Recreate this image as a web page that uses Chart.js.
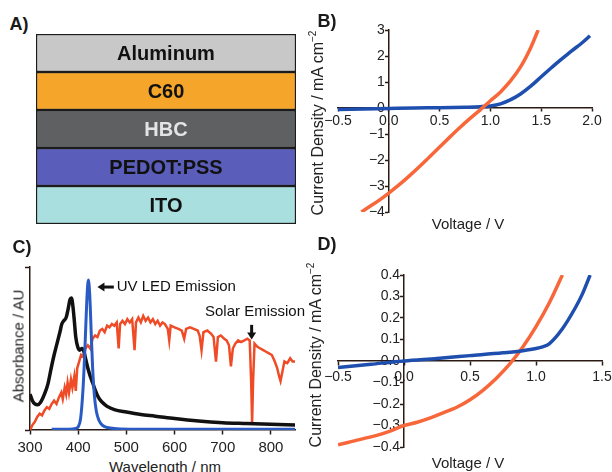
<!DOCTYPE html>
<html>
<head>
<meta charset="utf-8">
<script src="https://cdn.jsdelivr.net/npm/chart.js@4.4.0/dist/chart.umd.min.js"></script>
<style>
  body { margin: 0; background: #fff; }
  #wrap { position: relative; width: 612px; height: 472px; overflow: hidden;
          font-family: "Liberation Sans", Arial, sans-serif; color: #222; }
  canvas { position: absolute; }
  .t { position: absolute; white-space: nowrap; line-height: 1; transform: translate(-50%, -50%); }
  .rot { transform: translate(-50%, -50%) rotate(-90deg); }
  .lab { font-weight: bold; font-size: 18px; color: #1a1a1a; }
  .ax { font-size: 15px; }
  .ay { font-size: 16px; }
</style>
</head>
<body>
<div id="wrap">
  <canvas id="layerChart" width="272" height="202" style="left:30px;top:28px"></canvas>
  <canvas id="ivDarkChart" width="292" height="216" style="left:318px;top:8px"></canvas>
  <canvas id="spectraChart" width="300" height="200" style="left:5px;top:255px"></canvas>
  <canvas id="ivLightChart" width="294" height="195" style="left:318px;top:262px"></canvas>

  <div class="t lab" style="left:19px;top:24px">A)</div>
  <div class="t lab" style="left:327px;top:21px">B)</div>
  <div class="t lab" style="left:22px;top:247px">C)</div>
  <div class="t lab" style="left:327px;top:244px">D)</div>

  <div class="t ay rot" style="left:317px;top:123px">Current Density / mA cm<sup style="font-size:10px">&minus;2</sup></div>
  <div class="t ax" style="left:468px;top:223px">Voltage / V</div>
  <div class="t ax rot" style="left:18px;top:346px">Absorbance / AU</div>
  <div class="t ax" style="left:165px;top:466px">Wavelength / nm</div>
  <div class="t ay rot" style="left:315px;top:355px">Current Density / mA cm<sup style="font-size:10px">&minus;2</sup></div>
  <div class="t ax" style="left:468px;top:462px">Voltage / V</div>
</div>

<script>
// A) device stack, bottom to top
const layerNames = ['ITO', 'PEDOT:PSS', 'HBC', 'C60', 'Aluminum'];
const layerThickness = [1, 1, 1, 1, 1];
const layerColors = ['#a9dfdf', '#5a5db9', '#5e6061', '#f5a62a', '#c8c8c8'];
const layerTextColors = ['#111', '#111', '#e4e4e4', '#111', '#111'];

// B) J-V curves, panel B
const bOrangeV = [-0.27, -0.2, -0.1, 0, 0.1, 0.2, 0.3, 0.4, 0.5, 0.6, 0.7, 0.8, 0.9, 1.0, 1.1, 1.2, 1.3, 1.4, 1.47];
const bOrangeJ = [-4.0, -3.82, -3.56, -3.27, -2.96, -2.62, -2.26, -1.88, -1.5, -1.12, -0.75, -0.4, -0.07, 0.28, 0.62, 1.05, 1.6, 2.35, 3.0];
const bBlueV = [-0.5, -0.25, 0, 0.25, 0.5, 0.75, 0.9, 1.0, 1.1, 1.2, 1.3, 1.4, 1.5, 1.6, 1.7, 1.8, 1.9, 1.98];
const bBlueJ = [-0.06, -0.04, -0.02, 0, 0.01, 0.03, 0.05, 0.08, 0.16, 0.32, 0.55, 0.85, 1.2, 1.55, 1.88, 2.2, 2.5, 2.78];

// C) spectra
const absWl = [300, 305, 310, 316, 322, 330, 337, 344, 350, 356, 362, 366, 370, 375, 379, 383, 386, 389, 392, 395, 399, 403, 408, 412, 416, 420, 425, 430, 436, 442, 450, 460, 475, 500, 530, 560, 600, 650, 700, 750, 800, 850];
const absVal = [0.22, 0.18, 0.16, 0.155, 0.17, 0.22, 0.28, 0.38, 0.46, 0.53, 0.60, 0.65, 0.67, 0.69, 0.74, 0.80, 0.81, 0.76, 0.67, 0.57, 0.51, 0.49, 0.50, 0.48, 0.43, 0.38, 0.33, 0.29, 0.24, 0.20, 0.17, 0.145, 0.125, 0.11, 0.095, 0.085, 0.07, 0.055, 0.045, 0.04, 0.035, 0.03];
const ledWl = [345, 380, 395, 400, 405, 410, 414, 418, 421, 424, 427, 430, 434, 438, 443, 450, 460, 480, 520, 850];
const ledVal = [0.005, 0.005, 0.01, 0.02, 0.07, 0.25, 0.50, 0.80, 0.92, 0.83, 0.60, 0.38, 0.20, 0.11, 0.06, 0.03, 0.015, 0.008, 0.005, 0.005];
const solarWl = [300, 305, 310, 315, 320, 325, 330, 335, 340, 345, 350, 355, 360, 365, 368, 372, 375, 378, 381, 385, 388, 392, 395, 398, 402, 406, 410, 415, 420, 425, 430, 435, 440, 445, 450, 455, 460, 465, 470, 475, 480, 484, 487, 492, 497, 502, 507, 512, 517, 520, 525, 530, 535, 540, 545, 550, 555, 560, 565, 570, 575, 580, 586, 589, 592, 600, 608, 615, 620, 624, 632, 640, 648, 652, 656, 660, 668, 676, 681, 686, 690, 696, 703, 708, 713, 717, 721, 726, 732, 738, 745, 751, 756, 759, 761, 763, 766, 772, 778, 784, 790, 796, 802, 808, 813, 817, 820, 824, 828, 834, 840, 845, 850];
const solarVal = [0.00, 0.03, 0.05, 0.08, 0.10, 0.09, 0.12, 0.14, 0.13, 0.16, 0.18, 0.16, 0.20, 0.23, 0.19, 0.26, 0.22, 0.29, 0.23, 0.31, 0.26, 0.33, 0.24, 0.38, 0.42, 0.46, 0.45, 0.50, 0.52, 0.50, 0.56, 0.58, 0.57, 0.61, 0.62, 0.60, 0.64, 0.63, 0.65, 0.64, 0.66, 0.50, 0.65, 0.67, 0.65, 0.68, 0.66, 0.68, 0.49, 0.66, 0.69, 0.66, 0.70, 0.67, 0.69, 0.66, 0.68, 0.65, 0.67, 0.64, 0.66, 0.65, 0.62, 0.55, 0.64, 0.63, 0.62, 0.61, 0.56, 0.62, 0.63, 0.62, 0.61, 0.58, 0.49, 0.60, 0.61, 0.59, 0.57, 0.42, 0.57, 0.58, 0.56, 0.55, 0.52, 0.39, 0.50, 0.53, 0.55, 0.54, 0.55, 0.56, 0.55, 0.30, 0.05, 0.30, 0.53, 0.51, 0.50, 0.49, 0.48, 0.47, 0.46, 0.42, 0.38, 0.33, 0.30, 0.36, 0.42, 0.41, 0.44, 0.42, 0.42];
const wlTicks = [300, 400, 500, 600, 700, 800];

// D) J-V curves, panel D
const dOrangeV = [-0.5, -0.4, -0.3, -0.2, -0.1, 0, 0.1, 0.2, 0.3, 0.4, 0.5, 0.6, 0.7, 0.8, 0.9, 1.0, 1.1, 1.2];
const dOrangeJ = [-0.39, -0.375, -0.36, -0.345, -0.325, -0.30, -0.285, -0.265, -0.24, -0.215, -0.18, -0.135, -0.08, -0.015, 0.065, 0.16, 0.27, 0.40];
const dBlueV = [-0.5, -0.25, 0, 0.25, 0.5, 0.75, 0.9, 1.0, 1.05, 1.1, 1.2, 1.3, 1.35, 1.41];
const dBlueJ = [-0.03, -0.015, 0, 0.012, 0.025, 0.038, 0.048, 0.058, 0.066, 0.08, 0.15, 0.25, 0.31, 0.40];

const FONT = '"Liberation Sans", Arial, sans-serif';
const ORANGE = '#f8673a';
const BLUE = '#1f4fae';
const AXIS = '#2a1a14';

const pts = (xs, ys) => xs.map((x, i) => ({ x: x, y: ys[i] }));
const fmt = d => v => { if (Math.abs(v) < 1e-9) v = 0; return v.toFixed(d).replace('-', '\u2212'); };
// y labels of an axis crossing at x=0 are right-aligned on the axis line; a trailing space keeps them off it
const fmtY = d => v => fmt(d)(v) + ' ';
const noPad = s => { s.paddingLeft = s.paddingRight = s.paddingTop = s.paddingBottom = 0; };

function centerAxis(o) {
    return {
        type: 'linear', min: o.min, max: o.max, position: o.position,
        afterFit: noPad,
        border: { display: true, color: AXIS, width: 1.5 },
        grid: { drawOnChartArea: false, drawTicks: true, tickLength: o.tickLength || 4, tickColor: AXIS, tickWidth: 1.5 },
        ticks: {
            display: o.labels !== false, stepSize: o.step, includeBounds: false, autoSkip: false, maxRotation: 0,
            callback: o.callback, padding: o.padding || 2, color: '#222', font: { family: FONT, size: o.size || 14 }
        }
    };
}

// A) layer stack
const layerLabels = {
    id: 'layerLabels',
    afterDatasetsDraw(chart) {
        const ctx = chart.ctx;
        chart.data.datasets.forEach((ds, i) => {
            const bar = chart.getDatasetMeta(i).data[0];
            ctx.save();
            ctx.font = 'bold 20px ' + FONT;
            ctx.fillStyle = layerTextColors[i];
            ctx.textAlign = 'center';
            ctx.textBaseline = 'middle';
            ctx.fillText(ds.label, bar.x, (bar.y + bar.base) / 2 + 1);
            ctx.restore();
        });
    }
};
new Chart(document.getElementById('layerChart'), {
    type: 'bar',
    data: {
        labels: ['stack'],
        datasets: layerNames.map((n, i) => ({
            label: n, data: [layerThickness[i]], backgroundColor: layerColors[i],
            borderColor: '#1c1c1c', borderWidth: 1.5, borderSkipped: false,
            barPercentage: 1, categoryPercentage: 1
        }))
    },
    options: {
        responsive: false, animation: false, events: [],
        layout: { padding: 6 },
        plugins: { legend: { display: false }, tooltip: { enabled: false } },
        scales: {
            x: { stacked: true, display: false },
            y: { stacked: true, display: false, min: 0, max: 5 }
        }
    },
    plugins: [layerLabels]
});

// B) J-V
new Chart(document.getElementById('ivDarkChart'), {
    type: 'line',
    data: {
        datasets: [
            { data: pts(bOrangeV, bOrangeJ), borderColor: ORANGE, borderWidth: 3.5, pointRadius: 0, cubicInterpolationMode: 'monotone', order: 0 },
            { data: pts(bBlueV, bBlueJ), borderColor: BLUE, borderWidth: 3.5, pointRadius: 0, cubicInterpolationMode: 'monotone', order: 1 }
        ]
    },
    options: {
        responsive: false, animation: false, events: [],
        layout: { padding: { left: 20, right: 18, top: 22, bottom: 12 } },
        plugins: { legend: { display: false }, tooltip: { enabled: false } },
        scales: {
            x: centerAxis({ min: -0.5, max: 2.0, step: 0.5, position: { y: 0 }, callback: fmt(1), tickLength: 3, padding: 2 }),
            y: centerAxis({ min: -4, max: 3, step: 1, position: { x: 0 }, callback: fmtY(0), tickLength: 3, padding: 1 })
        }
    }
});

// C) spectra with annotations
const spectraNotes = {
    id: 'spectraNotes',
    afterDraw(chart) {
        const { ctx, scales: { x, y } } = chart;
        ctx.save();
        ctx.fillStyle = '#111';
        ctx.strokeStyle = '#111';
        ctx.lineWidth = 3;
        // UV LED arrow (points left)
        const ay = y.getPixelForValue(0.877);
        const ax0 = x.getPixelForValue(440), ax1 = x.getPixelForValue(474);
        ctx.beginPath(); ctx.moveTo(ax0 + 5, ay); ctx.lineTo(ax1, ay); ctx.stroke();
        ctx.beginPath(); ctx.moveTo(ax0, ay); ctx.lineTo(ax0 + 7, ay - 4.5); ctx.lineTo(ax0 + 7, ay + 4.5); ctx.closePath(); ctx.fill();
        ctx.font = '15px ' + FONT;
        ctx.textBaseline = 'middle';
        ctx.textAlign = 'left';
        ctx.fillText('UV LED Emission', x.getPixelForValue(480), ay);
        // Solar arrow (points down)
        const sx = x.getPixelForValue(760);
        const sy0 = y.getPixelForValue(0.645), sy1 = y.getPixelForValue(0.555);
        ctx.beginPath(); ctx.moveTo(sx, sy0); ctx.lineTo(sx, sy1 - 5); ctx.stroke();
        ctx.beginPath(); ctx.moveTo(sx, sy1); ctx.lineTo(sx - 4.5, sy1 - 7); ctx.lineTo(sx + 4.5, sy1 - 7); ctx.closePath(); ctx.fill();
        ctx.textAlign = 'center';
        ctx.fillText('Solar Emission', x.getPixelForValue(767), y.getPixelForValue(0.724));
        ctx.restore();
    }
};
new Chart(document.getElementById('spectraChart'), {
    type: 'line',
    data: {
        datasets: [
            { data: pts(solarWl, solarVal), borderColor: '#ef4b26', borderWidth: 2.5, pointRadius: 0, tension: 0, order: 2 },
            { data: pts(absWl, absVal), borderColor: '#111', borderWidth: 3.5, pointRadius: 0, cubicInterpolationMode: 'monotone', order: 1 },
            { data: pts(ledWl, ledVal), borderColor: '#2a5bc4', borderWidth: 3, pointRadius: 0, cubicInterpolationMode: 'monotone', order: 0 }
        ]
    },
    options: {
        responsive: false, animation: false, events: [],
        layout: { padding: { left: 25, right: 10, top: 12, bottom: 25 } },
        plugins: { legend: { display: false }, tooltip: { enabled: false } },
        scales: {
            x: Object.assign(centerAxis({ min: 300, max: 850, step: 100, position: { y: 0 }, callback: v => v, size: 15, tickLength: 4, padding: 5 }), {
                afterBuildTicks: s => { s.ticks = wlTicks.map(v => ({ value: v })); }
            }),
            y: centerAxis({ min: 0, max: 1, step: 1, position: { x: 300 }, labels: false, tickLength: 0 })
        }
    },
    plugins: [spectraNotes]
});

// D) J-V
new Chart(document.getElementById('ivLightChart'), {
    type: 'line',
    data: {
        datasets: [
            { data: pts(dOrangeV, dOrangeJ), borderColor: ORANGE, borderWidth: 3.5, pointRadius: 0, cubicInterpolationMode: 'monotone', order: 1 },
            { data: pts(dBlueV, dBlueJ), borderColor: BLUE, borderWidth: 3.5, pointRadius: 0, cubicInterpolationMode: 'monotone', order: 0 }
        ]
    },
    options: {
        responsive: false, animation: false, events: [],
        layout: { padding: { left: 20, right: 10, top: 13, bottom: 10 } },
        plugins: { legend: { display: false }, tooltip: { enabled: false } },
        scales: {
            x: centerAxis({ min: -0.5, max: 1.5, step: 0.5, position: { y: 0 }, callback: fmt(1), tickLength: 4, padding: 4 }),
            y: centerAxis({ min: -0.4, max: 0.4, step: 0.1, position: { x: 0 }, callback: fmtY(1), tickLength: 3, padding: 2 })
        }
    }
});
</script>
</body>
</html>
